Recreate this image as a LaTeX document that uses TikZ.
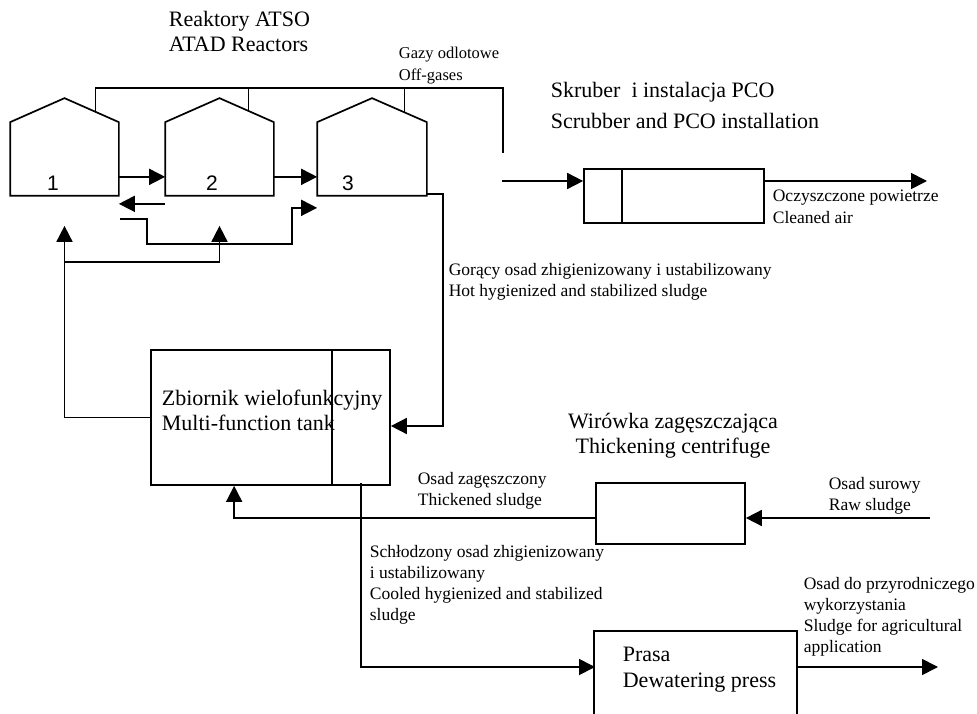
\documentclass[tikz,border=0pt]{standalone}
\usepackage{fontspec}
\setmainfont{Liberation Serif}
\newfontfamily\digitfont{Liberation Sans}
\usetikzlibrary{arrows.meta,calc}
\tikzset{
  arr/.style={-{Triangle[length=16pt,width=16pt]}},
  body/.style={rectangle, inner sep=0pt, minimum height=72pt, minimum width=107pt},
  box/.style={draw, rectangle, inner sep=0pt},
  title/.style={anchor=base west, align=left, inner sep=0pt, font=\fontsize{22}{25}\selectfont},
  small/.style={anchor=base west, align=left, inner sep=0pt, font=\fontsize{17.5}{21}\selectfont},
  digit/.style={inner sep=0pt, font=\digitfont\fontsize{21}{24}\selectfont},
}
\begin{document}
\begin{tikzpicture}[x=1pt,y=-1pt,line width=1.7pt]
\useasboundingbox (0,0) rectangle (977,714);

% reactors
\node[body] (r1) at (64.5,159) {};
\node[body] (r2) at (219.5,159) {};
\node[body, minimum width=108pt] (r3) at (372,159) {};
\foreach \r in {r1,r2,r3}{
  \coordinate (\r top) at ($(\r.north)+(0,-24)$);
  \draw (\r.south west) -- (\r.north west) -- (\r top) -- (\r.north east) -- (\r.south east) -- cycle;
}
\node[digit] (d1) at (53,183) {1};
\node[digit] (d2) at (212,183) {2};
\node[digit] (d3) at (348,183) {3};

% gas pipes
\coordinate (p1) at ($(r1.north east)!0.43!(r1top)$);
\coordinate (p2) at ($(r2.north east)!0.467!(r2top)$);
\coordinate (p3) at ($(r3.north east)!0.41!(r3top)$);
\coordinate (gtop) at (503,88);
\coordinate (gend) at (503,153);
\draw (p1) |- (gtop) -- (gend);
\draw (p2) -- (p2 |- gtop);
\draw (p3) -- (p3 |- gtop);

% scrubber
\node[box, minimum width=180pt, minimum height=54pt] (scrub) at (674,196) {};
\coordinate (sdiv) at (622,0);
\draw[line width=2.6pt] (scrub.north -| sdiv) -- (scrub.south -| sdiv);
\coordinate (sin) at (502,181);
\coordinate (sout) at (927,181);
\draw[arr] (sin) -- (sin -| scrub.west);
\draw[arr] (scrub.east |- sout) -- (sout);

% reactor connections
\draw[arr] ($(r1.south east)+(0,-19)$) -- ($(r2.south west)+(0,-19)$);
\draw[arr] ($(r2.south east)+(0,-19)$) -- ($(r3.south west)+(0,-19)$);
\draw[arr] ($(r2.south west)+(0,8)$) -- ($(r1.south east)+(0,8)$);
\draw[arr] ($(r1.south east)+(1,23)$) -- ++(27,0) -- ++(0,25) -| ($(r3.south west)+(-25,12)$) -- ($(r3.south west)+(0,12)$);

% multi-function tank
\node[box, minimum width=239pt, minimum height=135pt] (tank) at (270.5,417.5) {};
\coordinate (tdiv) at (332,0);
\draw (tank.north -| tdiv) -- (tank.south -| tdiv);
\node[title] (tanktext) at (161,430) {Zbiornik wielofunkcyjny\\Multi-function tank};

% feed from tank to reactors
\coordinate (fj) at (64.5,262);
\draw[arr] (tank.west) -| ($(r1.south)+(0,30)$);
\draw[arr] (fj) -| ($(r2.south)+(0,30)$);

% hot sludge back to tank
\draw[arr] ($(r3.south east)+(0,-2)$) -- ++(16,0) |- ($(tank.east)+(0,8.5)$);

% centrifuge
\node[box, minimum width=149pt, minimum height=61pt] (cent) at (670.5,513.5) {};
\coordinate (raw) at (930,518);
\draw[arr] (raw) -- (raw -| cent.east);
\draw[arr] ([yshift=-4.5pt]cent.west) -| ($(tank.south west)+(84,0)$);

% press
\node[rectangle, inner sep=0pt, minimum width=201pt, minimum height=84pt] (press) at (695.5,674) {};
\draw (press.south west) -- (press.north west) -- (press.north east) -- (press.south east);
\node[title, font=\fontsize{22}{26}\selectfont] (presstext) at (622,687) {Prasa\\Dewatering press};
\coordinate (tout) at (361,483);
\coordinate (pin) at (595,667);
\draw[arr] (tout) |- (pin);
\coordinate (pout) at (938,667);
\draw[arr] (press.east |- pout) -- (pout);

% titles
\node[title] (rtitle) at (168,52) {Reaktory ATSO\\ATAD Reactors};
\node[title] (stitle) at (550,129) {Skruber\ \ i instalacja PCO\\[6pt]Scrubber and PCO installation};
\node[anchor=base, align=center, inner sep=0pt, font=\fontsize{22}{25}\selectfont] (ctitle) at (673,453) {Wirówka zagęszczająca\\Thickening centrifuge};

% small labels
\node[small, font=\fontsize{16.5}{22}\selectfont] (lgas) at (398,81) {Gazy odlotowe\\Off-gases};
\node[small] (lair) at (772,223) {Oczyszczone powietrze\\Cleaned air};
\node[small] (lhot) at (448,296) {Gorący osad zhigienizowany i ustabilizowany\\Hot hygienized and stabilized sludge};
\node[small] (lthick) at (417,505) {Osad zagęszczony\\Thickened sludge};
\node[small] (lraw) at (828,510) {Osad surowy\\Raw sludge};
\node[small, font=\fontsize{17.5}{20.7}\selectfont] (lcool) at (369,620) {Schłodzony osad zhigienizowany\\i ustabilizowany\\Cooled hygienized and stabilized\\sludge};
\node[small] (lagri) at (803,652) {Osad do przyrodniczego\\wykorzystania\\Sludge for agricultural\\application};
\end{tikzpicture}
\end{document}
